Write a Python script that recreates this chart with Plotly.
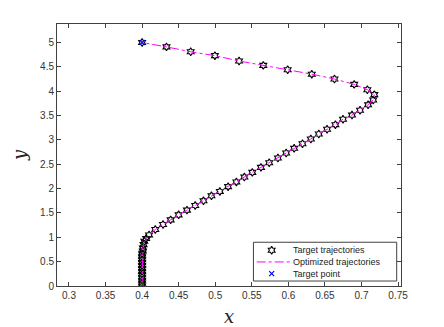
import plotly.graph_objects as go

# trajectory samples (from start at the bottom to the target)
traj_x = [0.400, 0.400, 0.400, 0.400, 0.400, 0.400, 0.400, 0.400, 0.400, 0.400,
          0.400, 0.400, 0.401, 0.401, 0.402, 0.403, 0.4055, 0.4095, 0.418, 0.4286,
          0.439, 0.4499, 0.4613, 0.4726, 0.4839, 0.4948, 0.5063, 0.5176, 0.5289, 0.5398,
          0.5507, 0.5625, 0.5738, 0.5857, 0.597, 0.6079, 0.6193, 0.6307, 0.6416, 0.6529,
          0.6643, 0.6747, 0.687, 0.698, 0.709, 0.716, 0.7175, 0.708, 0.690, 0.663,
          0.632, 0.599, 0.5657, 0.5326, 0.4995, 0.4664, 0.4333, 0.400]
traj_y = [0.00, 0.06, 0.12, 0.18, 0.24, 0.30, 0.36, 0.42, 0.48, 0.54,
          0.60, 0.66, 0.72, 0.78, 0.85, 0.92, 0.975, 1.049, 1.160, 1.263,
          1.358, 1.461, 1.558, 1.654, 1.749, 1.852, 1.942, 2.040, 2.137, 2.237,
          2.333, 2.436, 2.531, 2.628, 2.730, 2.827, 2.922, 3.018, 3.121, 3.218,
          3.313, 3.424, 3.51, 3.61, 3.72, 3.82, 3.93, 4.03, 4.14, 4.25,
          4.35, 4.44, 4.53, 4.62, 4.73, 4.81, 4.91, 5.00]

target_x = [0.4]
target_y = [5.0]

x_ticks = [0.3, 0.35, 0.4, 0.45, 0.5, 0.55, 0.6, 0.65, 0.7, 0.75]
y_ticks = [0, 0.5, 1, 1.5, 2, 2.5, 3, 3.5, 4, 4.5, 5]

legend_names = ["Target trajectories", "Optimized trajectories", "Target point"]

AX = "#404040"
FONT = "Liberation Sans"
STAR = dict(symbol="hexagram-open", size=6, color="black", line=dict(width=1.1, color="black"))
CROSS = dict(symbol="x-thin-open", size=5, color="blue", line=dict(width=1.2, color="blue"))
DASH = dict(color="#ff00ff", width=1, dash="dashdot")

fig = go.Figure()
fig.add_trace(go.Scatter(x=traj_x, y=traj_y, mode="markers", marker=STAR,
                         name=legend_names[0], showlegend=False))
fig.add_trace(go.Scatter(x=traj_x, y=traj_y, mode="lines", line=DASH,
                         name=legend_names[1], showlegend=False))
fig.add_trace(go.Scatter(x=target_x, y=target_y, mode="markers", marker=CROSS,
                         name=legend_names[2], showlegend=False))

# ── compact MATLAB-style legend (plotly's own rows are too tall) ──────────────
box = dict(x0=0.571, x1=0.9875, y0=0.019, y1=0.167)
row_y = [0.1366, 0.0918, 0.0474]
sym_x, line_x0, line_x1, text_x = 0.624, 0.5805, 0.6765, 0.6796

fig.add_shape(type="rect", xref="paper", yref="paper", **box,
              line=dict(color=AX, width=1), fillcolor="white", layer="below")
fig.add_trace(go.Scatter(x=[sym_x], y=[row_y[0]], xaxis="x2", yaxis="y2",
                         mode="markers", marker=STAR, showlegend=False, hoverinfo="skip"))
fig.add_trace(go.Scatter(x=[line_x0, line_x1], y=[row_y[1]] * 2, xaxis="x2", yaxis="y2",
                         mode="lines", line=DASH, showlegend=False, hoverinfo="skip"))
fig.add_trace(go.Scatter(x=[sym_x], y=[row_y[2]], xaxis="x2", yaxis="y2",
                         mode="markers", marker=CROSS, showlegend=False, hoverinfo="skip"))
for name, ry in zip(legend_names, row_y):
    fig.add_annotation(x=text_x, y=ry, xref="paper", yref="paper", text=name,
                       showarrow=False, xanchor="left", yanchor="middle",
                       font=dict(family=FONT, size=9, color="#222222"))

axis_common = dict(
    showline=True, linecolor=AX, linewidth=1, mirror="allticks",
    ticks="inside", ticklen=4, tickcolor=AX, tickwidth=1,
    showgrid=False, zeroline=False, automargin=False,
    tickfont=dict(family=FONT, size=10, color="#333333"),
)

fig.update_layout(
    width=436, height=319,
    margin=dict(l=49, r=43, t=16, b=41),
    plot_bgcolor="white", paper_bgcolor="white",
    xaxis=dict(range=[0.2836, 0.754], tickvals=x_ticks,
               ticktext=[f"{v:g}" for v in x_ticks],
               title=dict(text="<i>x</i>", standoff=12,
                          font=dict(family="DejaVu Serif", size=18, color="#222222")),
               **axis_common),
    yaxis=dict(range=[0, 5.38], tickvals=y_ticks,
               ticktext=[f"{v:g}" for v in y_ticks],
               title=dict(text="<i>y</i>", standoff=8,
                          font=dict(family="DejaVu Serif", size=18, color="#222222")),
               **axis_common),
    xaxis2=dict(range=[0, 1], domain=[0, 1], anchor="y2", overlaying="x", visible=False),
    yaxis2=dict(range=[0, 1], domain=[0, 1], anchor="x2", overlaying="y", visible=False),
    showlegend=False,
)

fig.write_html("out.html")
